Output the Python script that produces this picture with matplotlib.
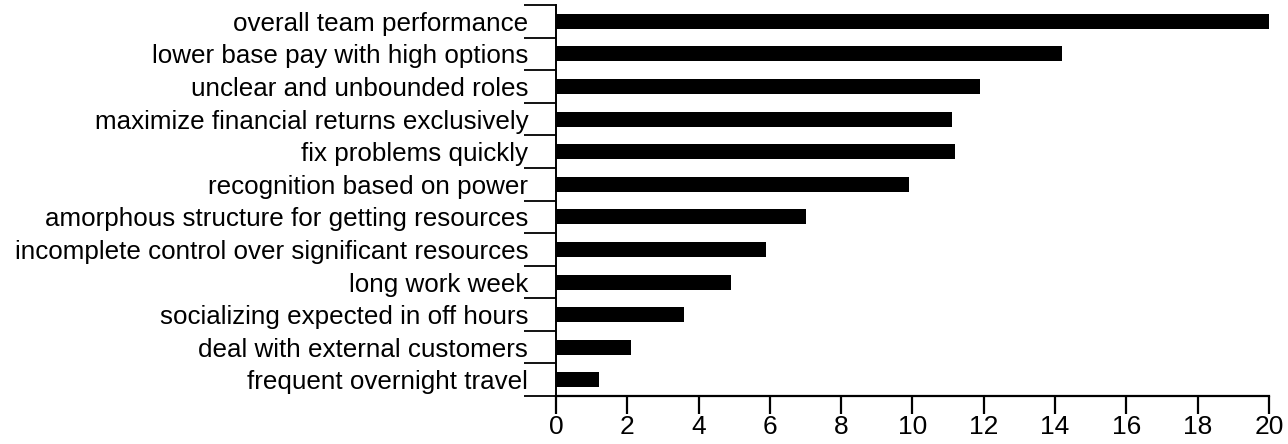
import numpy as np
import matplotlib.pyplot as plt

plt.rcParams['font.family'] = ['Liberation Sans', 'DejaVu Sans']

# categories listed top to bottom
categories = [
    'overall team performance',
    'lower base pay with high options',
    'unclear and unbounded roles',
    'maximize financial returns exclusively',
    'fix problems quickly',
    'recognition based on power',
    'amorphous structure for getting resources',
    'incomplete control over significant resources',
    'long work week',
    'socializing expected in off hours',
    'deal with external customers',
    'frequent overnight travel',
]
values = [20.0, 14.2, 11.9, 11.1, 11.2, 9.9, 7.0, 5.9, 4.9, 3.6, 2.1, 1.2]
xticks = [0, 2, 4, 6, 8, 10, 12, 14, 16, 18, 20]

n = len(categories)
ypos = np.arange(n)

fig = plt.figure(figsize=(12.88, 4.44), dpi=100)
ax = fig.add_axes([0.4317, 0.108, 0.5535, 0.8805])

ax.barh(ypos, values, height=0.46, color='black')

ax.set_xlim(0, 20)
ax.set_ylim(n - 0.5, -0.5)

ax.spines['top'].set_visible(False)
ax.spines['right'].set_visible(False)
ax.spines['left'].set_linewidth(1.4)
ax.spines['bottom'].set_linewidth(1.6)

# boundary ticks (major) and labels at the centres (minor)
ax.set_yticks(np.arange(n + 1) - 0.5)
ax.set_yticklabels([])
ax.set_yticks(ypos, minor=True)
ax.set_yticklabels(categories, minor=True, fontsize=18.7)
ax.tick_params(axis='y', which='major', length=23, width=1.3, direction='out')
ax.tick_params(axis='y', which='minor', length=0, pad=20)

ax.set_xticks(xticks)
ax.set_xticklabels([str(t) for t in xticks], fontsize=19)
ax.tick_params(axis='x', length=13, width=1.6, direction='out', pad=1)

fig.savefig('out.png', dpi=100)
